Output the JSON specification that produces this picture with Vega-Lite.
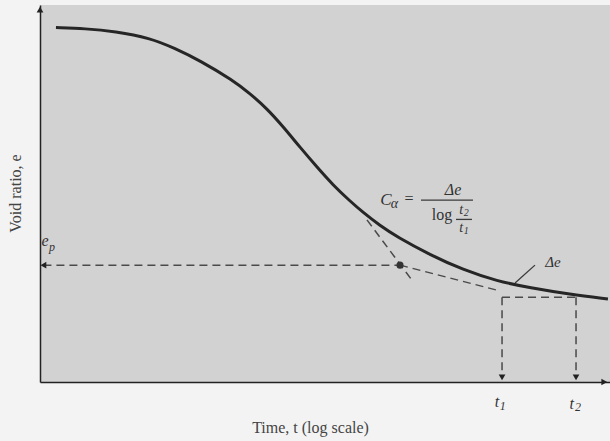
{
  "$schema": "https://vega.github.io/schema/vega-lite/v6.json",
  "width": 570,
  "height": 377,
  "autosize": {"type": "none"},
  "padding": {"left": 40, "top": 5, "right": 0, "bottom": 59},
  "background": "#f3f3f3",
  "config": {
    "view": {"stroke": null, "fill": "#d2d2d2"},
    "font": "Liberation Serif"
  },
  "datasets": {
    "curve": [
      {"logt": 0.140, "e": 1.076}, {"logt": 0.395, "e": 1.075}, {"logt": 0.658, "e": 1.072},
      {"logt": 0.965, "e": 1.065}, {"logt": 1.184, "e": 1.054}, {"logt": 1.404, "e": 1.041},
      {"logt": 1.693, "e": 1.020}, {"logt": 1.842, "e": 1.006}, {"logt": 1.991, "e": 0.990},
      {"logt": 2.132, "e": 0.971}, {"logt": 2.281, "e": 0.949}, {"logt": 2.430, "e": 0.928},
      {"logt": 2.570, "e": 0.909}, {"logt": 2.719, "e": 0.892}, {"logt": 2.833, "e": 0.880},
      {"logt": 2.982, "e": 0.866}, {"logt": 3.132, "e": 0.854}, {"logt": 3.421, "e": 0.835},
      {"logt": 3.711, "e": 0.819}, {"logt": 4.009, "e": 0.807}, {"logt": 4.298, "e": 0.800},
      {"logt": 4.649, "e": 0.793}, {"logt": 4.982, "e": 0.788}
    ],
    "dashed": [
      {"x": 0.03, "x2": 3.158, "y": 0.824, "y2": 0.824},
      {"x": 3.158, "x2": 4.035, "y": 0.824, "y2": 0.7966},
      {"x": 2.868, "x2": 3.263, "y": 0.872, "y2": 0.808},
      {"x": 4.053, "x2": 4.702, "y": 0.790, "y2": 0.790},
      {"x": 4.053, "x2": 4.053, "y": 0.790, "y2": 0.706},
      {"x": 4.702, "x2": 4.702, "y": 0.790, "y2": 0.706}
    ],
    "solid": [
      {"x": 4.342, "x2": 4.167, "y": 0.824, "y2": 0.805},
      {"x": 3.342, "x2": 3.798, "y": 0.893, "y2": 0.893},
      {"x": 3.649, "x2": 3.789, "y": 0.8725, "y2": 0.8725}
    ],
    "dot": [{"logt": 3.158, "e": 0.824}],
    "arrows": [
      {"logt": 0.03, "e": 0.824, "shape": "triangle-left"},
      {"logt": 4.053, "e": 0.705, "shape": "triangle-down"},
      {"logt": 4.702, "e": 0.705, "shape": "triangle-down"},
      {"logt": 0.0, "e": 1.095, "shape": "triangle-up"},
      {"logt": 4.95, "e": 0.7, "shape": "triangle-right"}
    ],
    "italic": [
      {"logt": 3.035, "e": 0.893, "label": "C", "size": 17},
      {"logt": 3.110, "e": 0.889, "label": "α", "size": 14},
      {"logt": 3.623, "e": 0.904, "label": "Δe", "size": 16},
      {"logt": 3.695, "e": 0.8825, "label": "t", "size": 14},
      {"logt": 3.740, "e": 0.8795, "label": "2", "size": 10},
      {"logt": 3.695, "e": 0.863, "label": "t", "size": 14},
      {"logt": 3.740, "e": 0.860, "label": "1", "size": 10},
      {"logt": 4.50, "e": 0.827, "label": "Δe", "size": 15},
      {"logt": 0.044, "e": 0.850, "label": "e", "size": 16},
      {"logt": 0.105, "e": 0.843, "label": "p", "size": 12},
      {"logt": 4.009, "e": 0.679, "label": "t", "size": 16},
      {"logt": 4.060, "e": 0.675, "label": "1", "size": 12},
      {"logt": 4.665, "e": 0.677, "label": "t", "size": 16},
      {"logt": 4.720, "e": 0.673, "label": "2", "size": 12}
    ],
    "normal": [
      {"logt": 3.236, "e": 0.894, "label": "=", "size": 16},
      {"logt": 3.526, "e": 0.877, "label": "log", "size": 16}
    ]
  },
  "encoding": {
    "x": {"type": "quantitative", "scale": {"domain": [0, 5], "nice": false, "zero": false}},
    "y": {"type": "quantitative", "scale": {"domain": [0.7, 1.1], "nice": false, "zero": false}}
  },
  "layer": [
    {
      "data": {"name": "curve"},
      "mark": {"type": "line", "interpolate": "basis", "color": "#262626", "strokeWidth": 3},
      "encoding": {
        "x": {"field": "logt", "type": "quantitative",
          "axis": {"title": "Time, t (log scale)", "ticks": false, "labels": false, "grid": false,
            "domainColor": "#222", "domainWidth": 1.5, "titleFont": "Liberation Serif", "titleFontSize": 16,
            "titleFontWeight": "normal", "titleColor": "#444", "titleX": 270, "titleY": 45,
            "titleAlign": "center", "titleBaseline": "middle"}},
        "y": {"field": "e", "type": "quantitative",
          "axis": {"title": "Void ratio, e", "ticks": false, "labels": false, "grid": false,
            "domainColor": "#222", "domainWidth": 1.5, "titleFont": "Liberation Serif", "titleFontSize": 16,
            "titleFontWeight": "normal", "titleColor": "#444", "titleX": -25, "titleY": 188,
            "titleAlign": "center", "titleBaseline": "middle", "titleAngle": -90}}
      }
    },
    {
      "data": {"name": "dashed"},
      "mark": {"type": "rule", "color": "#4a4a4a", "strokeWidth": 1.5, "strokeDash": [8, 5]},
      "encoding": {
        "x": {"field": "x", "type": "quantitative"},
        "x2": {"field": "x2"},
        "y": {"field": "y", "type": "quantitative"},
        "y2": {"field": "y2"}
      }
    },
    {
      "data": {"name": "solid"},
      "mark": {"type": "rule", "color": "#3a3a3a", "strokeWidth": 1.3},
      "encoding": {
        "x": {"field": "x", "type": "quantitative"},
        "x2": {"field": "x2"},
        "y": {"field": "y", "type": "quantitative"},
        "y2": {"field": "y2"}
      }
    },
    {
      "data": {"name": "dot"},
      "mark": {"type": "point", "filled": true, "color": "#333", "size": 50, "opacity": 1},
      "encoding": {
        "x": {"field": "logt", "type": "quantitative"},
        "y": {"field": "e", "type": "quantitative"}
      }
    },
    {
      "data": {"name": "arrows"},
      "mark": {"type": "point", "filled": true, "color": "#222", "size": 45, "opacity": 1},
      "encoding": {
        "x": {"field": "logt", "type": "quantitative"},
        "y": {"field": "e", "type": "quantitative"},
        "shape": {"field": "shape", "type": "nominal", "scale": null}
      }
    },
    {
      "data": {"name": "italic"},
      "mark": {"type": "text", "font": "Liberation Serif", "fontStyle": "italic", "color": "#333", "baseline": "middle", "align": "center"},
      "encoding": {
        "x": {"field": "logt", "type": "quantitative"},
        "y": {"field": "e", "type": "quantitative"},
        "text": {"field": "label"},
        "size": {"field": "size", "type": "quantitative", "scale": null}
      }
    },
    {
      "data": {"name": "normal"},
      "mark": {"type": "text", "font": "Liberation Serif", "color": "#333", "baseline": "middle", "align": "center"},
      "encoding": {
        "x": {"field": "logt", "type": "quantitative"},
        "y": {"field": "e", "type": "quantitative"},
        "text": {"field": "label"},
        "size": {"field": "size", "type": "quantitative", "scale": null}
      }
    }
  ]
}
